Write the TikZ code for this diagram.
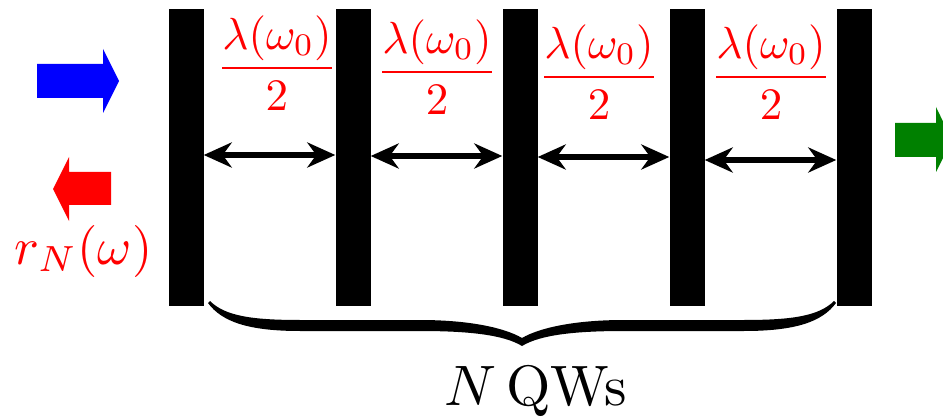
\documentclass[tikz,border=0pt]{standalone}
\usetikzlibrary{arrows.meta,calc}
\begin{document}
\begin{tikzpicture}[x=1pt,y=-1pt,
  bar/.style={fill=black,inner sep=0pt,minimum width=35pt,minimum height=297pt},
  stl/.tip={Stealth[length=28pt,width=25pt,inset=9pt]},
  dbl/.style={line width=6pt,stl-stl},
  fraclab/.style={text=red,anchor=base,inner sep=0pt,scale=4.5},
]
\useasboundingbox (0,0) rectangle (943,417);
\clip (0,0) rectangle (943,417);

% incoming, reflected and transmitted beams
\fill[blue] (37,64) -- (103,64) -- (103,49) -- (119,81) -- (103,113) -- (103,98) -- (37,98) -- cycle;
\fill[red] (111,172) -- (69,172) -- (69,157) -- (53,189) -- (69,221) -- (69,205) -- (111,205) -- cycle;
\fill[green!50!black] (895,123) -- (936,123) -- (936,107) -- (952,140) -- (936,172) -- (936,157) -- (895,157) -- cycle;

% quantum wells
\node[bar] (b1) at (186,157.5) {};
\node[bar] (b2) at (353,157.5) {};
\node[bar] (b3) at (520,157.5) {};
\node[bar] (b4) at (687,157.5) {};
\node[bar] (b5) at (854,157.5) {};

% spacing arrows
\draw[dbl] ($(b1.east)+(0,-2.5)$) -- ($(b2.west)+(0,-2.5)$);
\draw[dbl] ($(b2.east)+(0,-1.5)$) -- ($(b3.west)+(0,-1.5)$);
\draw[dbl] ($(b3.east)+(0,-0.5)$) -- ($(b4.west)+(0,-0.5)$);
\draw[dbl] ($(b4.east)+(0,2.5)$) -- ($(b5.west)+(0,2.5)$);

% labels
\node[fraclab] (f1) at (277,79.5) {$\displaystyle\frac{\lambda(\omega_0)}{2}$};
\node[fraclab] (f2) at (437,83.5) {$\displaystyle\frac{\lambda(\omega_0)}{2}$};
\node[fraclab] (f3) at (599,88.5) {$\displaystyle\frac{\lambda(\omega_0)}{2}$};
\node[fraclab] (f4) at (771,88.5) {$\displaystyle\frac{\lambda(\omega_0)}{2}$};

\node[text=red,anchor=base,inner sep=0pt,scale=5.2] (r) at (83.5,264) {$r_N(\omega)$};

% brace
\fill[black] (210,301)
  .. controls (225,316) and (252,320) .. (300,320) -- (420,320)
  .. controls (470,320) and (505,328) .. (522,338)
  .. controls (539,328) and (574,320) .. (624,320) -- (744,320)
  .. controls (792,320) and (819,316) .. (834,301)
  -- (836,303)
  .. controls (822,322) and (795,331) .. (744,331) -- (624,331)
  .. controls (574,331) and (540,335) .. (522,346)
  .. controls (504,335) and (470,331) .. (420,331) -- (300,331)
  .. controls (249,331) and (222,322) .. (208,303) -- cycle;

\node[anchor=base,inner sep=0pt,scale=5.7] (nq) at (536,405) {$N\,$QWs};
\end{tikzpicture}
\end{document}
